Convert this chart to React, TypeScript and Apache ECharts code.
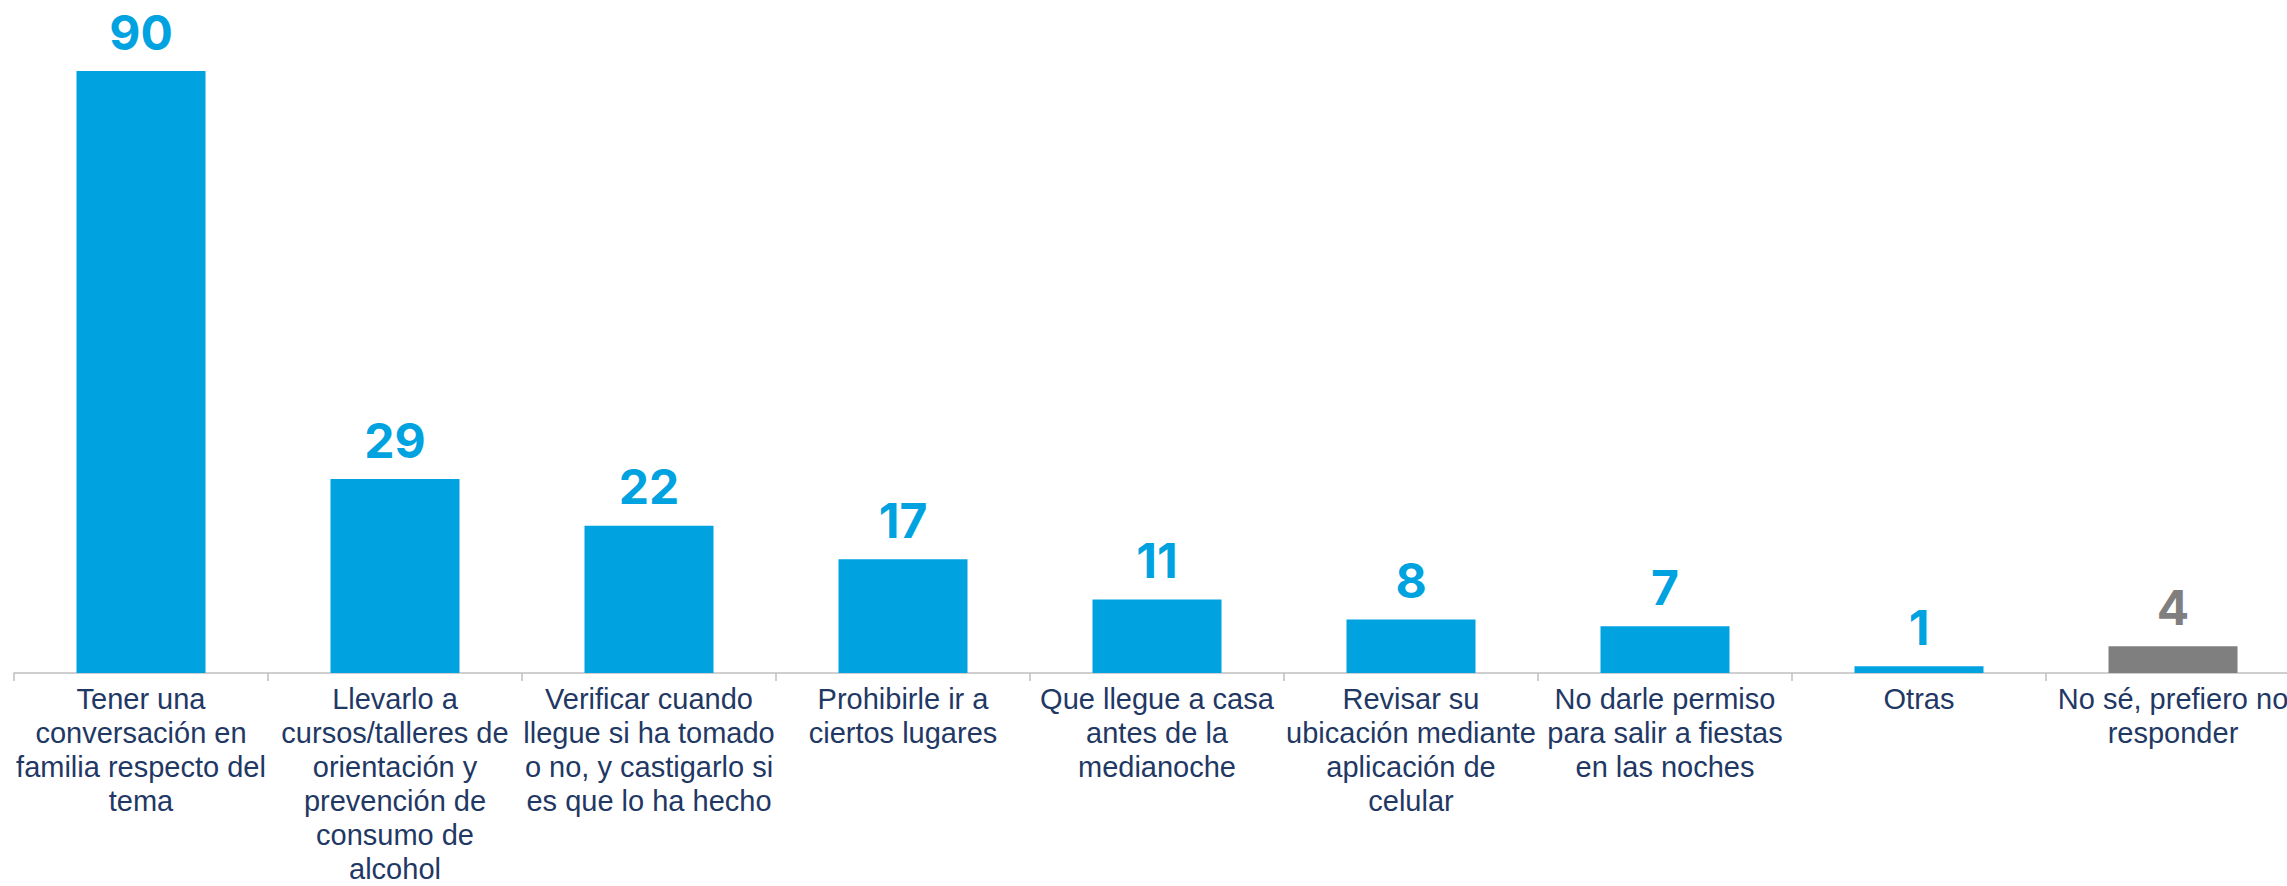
import React, { useEffect, useRef } from "react";
import * as echarts from "echarts";

const categories: string[] = [
  "Tener una\nconversación en\nfamilia respecto del\ntema",
  "Llevarlo a\ncursos/talleres de\norientación y\nprevención de\nconsumo de\nalcohol",
  "Verificar cuando\nllegue si ha tomado\no no, y castigarlo si\nes que lo ha hecho",
  "Prohibirle ir a\nciertos lugares",
  "Que llegue a casa\nantes de la\nmedianoche",
  "Revisar su\nubicación mediante\naplicación de\ncelular",
  "No darle permiso\npara salir a fiestas\nen las noches",
  "Otras",
  "No sé, prefiero no\nresponder",
];

const values: number[] = [90, 29, 22, 17, 11, 8, 7, 1, 4];
const isNeutral: boolean[] = [false, false, false, false, false, false, false, false, true];

const BLUE = "#00A3E0";
const GRAY = "#7F7F7F";

export default function App() {
  const ref = useRef<HTMLDivElement>(null);

  useEffect(() => {
    if (!ref.current) return;
    const chart = echarts.init(ref.current, undefined, { renderer: "svg" });
    const data = values.map((v, i) => {
      const c = isNeutral[i] ? GRAY : BLUE;
      return {
        value: v,
        itemStyle: { color: c },
        label: { color: c },
      };
    });
    chart.setOption({
      animation: false,
      backgroundColor: "#ffffff",
      grid: { left: 14, top: 71, width: 2286, height: 609, containLabel: false },
      xAxis: {
        type: "category",
        data: categories,
        axisLine: { show: true, lineStyle: { color: "#BFBFBF", width: 1.5 } },
        axisTick: { show: true, alignWithLabel: false, length: 8, lineStyle: { color: "#BFBFBF", width: 1.5 } },
        axisLabel: {
          interval: 0,
          margin: 9,
          fontFamily: "'Liberation Sans', Arial, sans-serif",
          fontSize: 29,
          lineHeight: 34,
          color: "#1F3864",
          align: "center",
        },
      },
      yAxis: {
        type: "value",
        min: 0,
        max: 90,
        show: false,
        splitLine: { show: false },
      },
      series: [
        {
          type: "bar",
          data,
          barWidth: 129,
          label: {
            show: true,
            position: "top",
            distance: 15,
            fontFamily: "Inter, 'Open Sans', sans-serif",
            fontWeight: "bold",
            fontSize: 48,
          },
        },
      ],
    });
    return () => chart.dispose();
  }, []);

  return (
    <div
      style={{
        position: "fixed",
        left: 0,
        top: 0,
        width: 2287,
        height: 886,
        overflow: "hidden",
        background: "#ffffff",
      }}
    >
      <div ref={ref} style={{ width: 2330, height: 886 }} />
    </div>
  );
}
